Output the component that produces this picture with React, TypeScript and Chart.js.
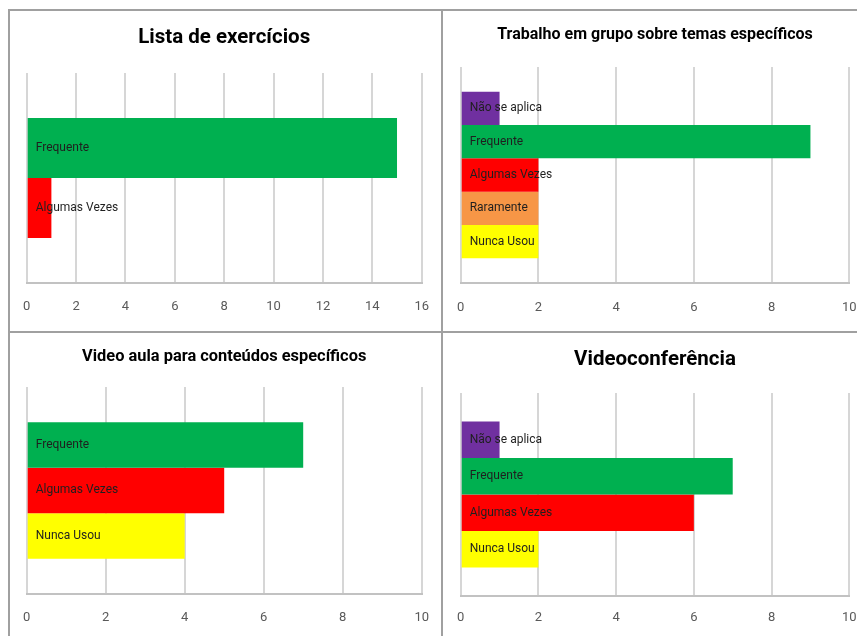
import React, { useEffect, useRef } from 'react';
import { Chart, registerables } from 'chart.js';

Chart.register(...registerables);

const FONT = "Roboto, 'Liberation Sans', sans-serif";

// ---- Data ----
const listaTitle = 'Lista de exercícios';
const listaSeries = ['Frequente', 'Algumas Vezes'];
const listaValues = [15, 1];
const listaMax = 16;

const trabalhoTitle = 'Trabalho em grupo sobre temas específicos';
const trabalhoSeries = ['Não se aplica', 'Frequente', 'Algumas Vezes', 'Raramente', 'Nunca Usou'];
const trabalhoValues = [1, 9, 2, 2, 2];
const trabalhoMax = 10;

const videoAulaTitle = 'Video aula para conteúdos específicos';
const videoAulaSeries = ['Frequente', 'Algumas Vezes', 'Nunca Usou'];
const videoAulaValues = [7, 5, 4];
const videoAulaMax = 10;

const videoconfTitle = 'Videoconferência';
const videoconfSeries = ['Não se aplica', 'Frequente', 'Algumas Vezes', 'Nunca Usou'];
const videoconfValues = [1, 7, 6, 2];
const videoconfMax = 10;

const tickStep = 2;

const seriesColors: Record<string, string> = {
  'Não se aplica': '#7030A0',
  'Frequente': '#00B050',
  'Algumas Vezes': '#FF0000',
  'Raramente': '#F79646',
  'Nunca Usou': '#FFFF00',
};

const barLabelPlugin = {
  id: 'barLabels',
  afterDatasetsDraw(chart: any) {
    const ctx = chart.ctx;
    ctx.save();
    ctx.font = `12px ${FONT}`;
    ctx.fillStyle = '#1f1f1f';
    ctx.textAlign = 'left';
    ctx.textBaseline = 'middle';
    chart.data.datasets.forEach((ds: any, i: number) => {
      const meta = chart.getDatasetMeta(i);
      meta.data.forEach((el: any) => {
        const { base, y } = el.getProps(['base', 'y'], true);
        ctx.fillText(ds.label, base + 8, y);
      });
    });
    ctx.restore();
  },
};

type PanelProps = {
  title: string;
  titleSize: number;
  series: string[];
  values: number[];
  max: number;
  catPct: number;
  left: number;
  top: number;
  width: number;
  height: number;
  padL: number;
  padR: number;
  axisH: number;
  titleTop: number;
  titleBottom: number;
  tickPad: number;
};

function Panel(p: PanelProps) {
  const ref = useRef<HTMLCanvasElement | null>(null);
  useEffect(() => {
    if (!ref.current) return;
    const chart = new Chart(ref.current, {
      type: 'bar',
      data: {
        labels: [''],
        datasets: p.series.map((name, i) => ({
          label: name,
          data: [p.values[i]],
          backgroundColor: seriesColors[name],
          borderWidth: 0,
          categoryPercentage: p.catPct,
          barPercentage: 1,
        })),
      },
      options: {
        indexAxis: 'y',
        responsive: false,
        animation: false,
        layout: { padding: { left: p.padL, right: p.padR, top: 0, bottom: 0 } },
        plugins: {
          legend: { display: false },
          tooltip: { enabled: false },
          title: {
            display: true,
            text: p.title,
            color: '#000000',
            font: { family: FONT, size: p.titleSize, weight: 'bold' },
            padding: { top: p.titleTop, bottom: p.titleBottom },
          },
        },
        scales: {
          x: {
            min: 0,
            max: p.max,
            ticks: {
              stepSize: tickStep,
              color: '#595959',
              font: { family: FONT, size: 13 },
              padding: p.tickPad,
            },
            grid: { color: '#d6d6d6', lineWidth: 2, drawTicks: false },
            border: { display: true, color: '#c2c2c2', width: 2 },
            afterFit: (scale: any) => {
              scale.height = p.axisH;
              scale.paddingLeft = 0;
              scale.paddingRight = 0;
            },
          },
          y: { display: false },
        },
      },
      plugins: [barLabelPlugin],
    } as any);
    return () => chart.destroy();
  }, []);
  return (
    <canvas
      ref={ref}
      width={p.width}
      height={p.height}
      style={{ position: 'absolute', left: p.left, top: p.top, width: p.width, height: p.height }}
    />
  );
}

const lineColor = '#a0a0a0';

export default function App() {
  return (
    <div style={{ position: 'fixed', left: 0, top: 0, width: 857, height: 636, background: '#fff', overflow: 'hidden' }}>
      <Panel title={listaTitle} titleSize={20.5} series={listaSeries} values={listaValues} max={listaMax} catPct={0.571}
        left={10} top={11} width={431} height={321} padL={16.7} padR={19.3} axisH={49} titleTop={14.7} titleBottom={22.7} tickPad={16} />
      <Panel title={trabalhoTitle} titleSize={16} series={trabalhoSeries} values={trabalhoValues} max={trabalhoMax} catPct={0.77}
        left={443} top={11} width={414} height={321} padL={17.7} padR={7.7} axisH={49} titleTop={14.4} titleBottom={22.4} tickPad={17} />
      <Panel title={videoAulaTitle} titleSize={16.4} series={videoAulaSeries} values={videoAulaValues} max={videoAulaMax} catPct={0.66}
        left={10} top={333} width={431} height={303} padL={16.7} padR={19.3} axisH={42} titleTop={14.2} titleBottom={20.1} tickPad={16} />
      <Panel title={videoconfTitle} titleSize={20.5} series={videoconfSeries} values={videoconfValues} max={videoconfMax} catPct={0.72}
        left={443} top={333} width={414} height={303} padL={17.7} padR={7.7} axisH={40} titleTop={14.7} titleBottom={20.7} tickPad={14} />
      <div style={{ position: 'absolute', left: 8, top: 9, width: 2, height: 627, background: lineColor }} />
      <div style={{ position: 'absolute', left: 8, top: 9, width: 849, height: 2, background: lineColor }} />
      <div style={{ position: 'absolute', left: 441, top: 9, width: 2, height: 627, background: lineColor }} />
      <div style={{ position: 'absolute', left: 8, top: 331, width: 849, height: 2, background: lineColor }} />
    </div>
  );
}
